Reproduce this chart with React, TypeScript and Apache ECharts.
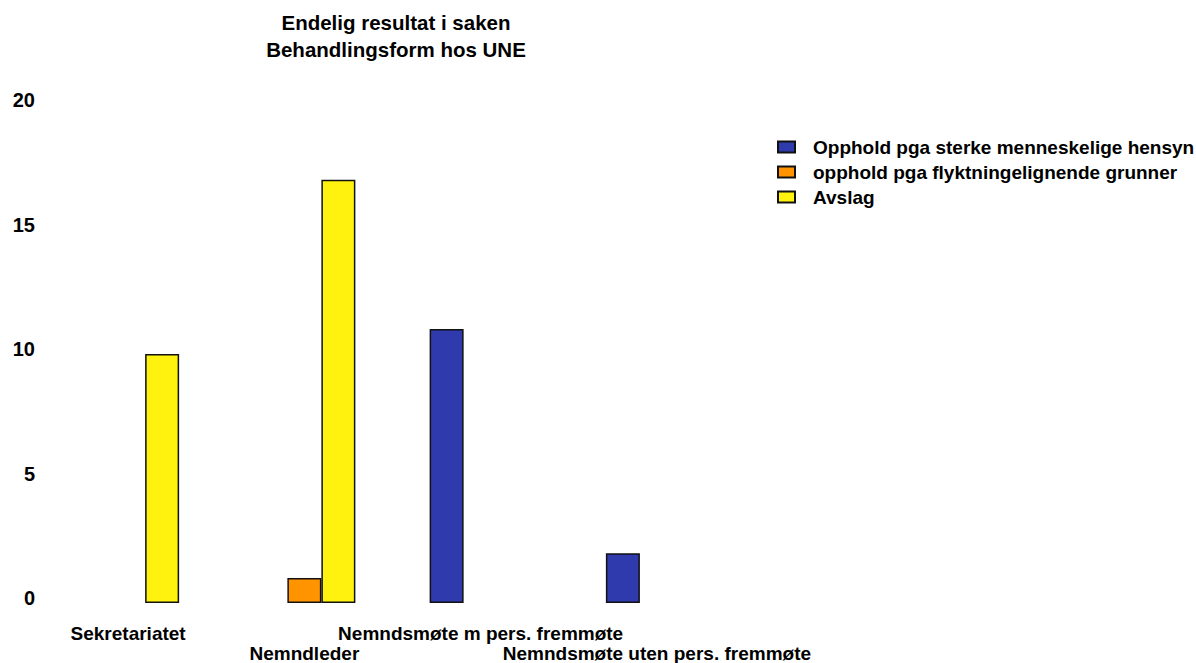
import React, { useEffect, useRef } from "react";
import * as echarts from "echarts";

const titleLines = ["Endelig resultat i saken", "Behandlingsform hos UNE"];
const categories = [
  "Sekretariatet",
  "Nemndleder",
  "Nemndsmøte m pers. fremmøte",
  "Nemndsmøte uten pers. fremmøte",
];
const seriesNames = [
  "Opphold pga sterke menneskelige hensyn",
  "opphold pga flyktningelignende grunner",
  "Avslag",
];
const oppholdSterke = [null, null, 11, 2];
const oppholdFlykt = [null, 1, null, null];
const avslag = [10, 17, null, null];
const seriesColors = ["#2f3aad", "#ff9400", "#fff20f"];
const yTicks = { min: 0, max: 20, interval: 5 };

const FONT = "'Liberation Sans', Arial, Helvetica, sans-serif";

export default function App() {
  const ref = useRef<HTMLDivElement>(null);
  useEffect(() => {
    if (!ref.current) return;
    const chart = echarts.init(ref.current, undefined, { renderer: "svg" });
    const values = [oppholdSterke, oppholdFlykt, avslag];
    chart.setOption({
      animation: false,
      backgroundColor: "#ffffff",
      graphic: titleLines.map((t, i) => ({
        type: "text",
        x: 396,
        y: 22.5 + i * 27,
        style: {
          text: t,
          fontFamily: FONT,
          fontWeight: "bold",
          fontSize: 20.5,
          fill: "#000",
          textAlign: "center",
          textVerticalAlign: "middle",
        },
      })),
      legend: {
        orient: "vertical",
        left: 777,
        top: 132,
        padding: 0,
        icon: "rect",
        itemWidth: 17,
        itemHeight: 11,
        itemGap: -5,
        selectedMode: false,
        data: seriesNames,
        textStyle: {
          fontFamily: FONT,
          fontWeight: "bold",
          fontSize: 19,
          color: "#000",
          lineHeight: 20,
          padding: [0, 0, 10, 13],
        },
      },
      grid: { left: 40, right: 451, top: 105, bottom: 58 },
      xAxis: {
        type: "category",
        data: categories,
        axisLine: { show: false },
        axisTick: { show: false },
        splitLine: { show: false },
        axisLabel: {
          interval: 0,
          margin: 20,
          fontFamily: FONT,
          fontWeight: "bold",
          fontSize: 19,
          lineHeight: 20,
          color: "#000",
          formatter: (v: string, i: number) => (i % 2 === 1 ? "\n" + v : v),
        },
      },
      yAxis: {
        type: "value",
        min: yTicks.min,
        max: yTicks.max,
        interval: yTicks.interval,
        axisLine: { show: false },
        axisTick: { show: false },
        splitLine: { show: false },
        axisLabel: {
          margin: 5,
          fontFamily: FONT,
          fontWeight: "bold",
          fontSize: 20,
          color: "#000",
          verticalAlign: "bottom",
          lineHeight: 10,
        },
      },
      series: seriesNames.map((name, i) => ({
        name,
        type: "bar",
        data: values[i],
        barWidth: 34,
        barGap: "0%",
        itemStyle: {
          color: seriesColors[i],
          borderColor: "#111",
          borderWidth: 1.5,
        },
      })),
    });
    return () => chart.dispose();
  }, []);
  return (
    <div
      ref={ref}
      style={{ position: "absolute", left: 0, top: 0, width: 1196, height: 663 }}
    />
  );
}
